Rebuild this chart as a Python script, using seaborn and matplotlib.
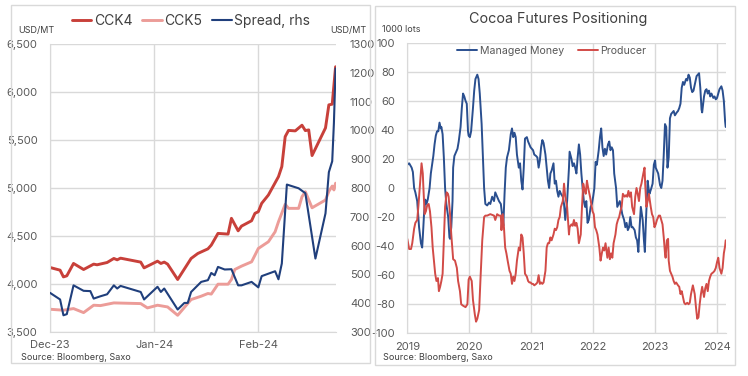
import matplotlib
matplotlib.use("Agg")
import matplotlib.pyplot as plt
from matplotlib.patches import Rectangle
import seaborn as sns
import pandas as pd

# ---------------- Left panel data ----------------
cck4_dates = ["2023-12-01", "2023-12-04", "2023-12-05", "2023-12-06", "2023-12-08", "2023-12-11",
              "2023-12-14", "2023-12-15", "2023-12-18", "2023-12-20", "2023-12-21", "2023-12-22",
              "2023-12-28", "2023-12-29", "2024-01-02", "2024-01-03", "2024-01-04", "2024-01-05",
              "2024-01-08", "2024-01-12", "2024-01-14", "2024-01-17", "2024-01-18", "2024-01-20",
              "2024-01-23", "2024-01-24", "2024-01-26", "2024-01-27", "2024-01-30", "2024-01-31",
              "2024-02-01", "2024-02-02", "2024-02-04", "2024-02-07", "2024-02-08", "2024-02-09",
              "2024-02-10", "2024-02-12", "2024-02-14", "2024-02-15", "2024-02-16", "2024-02-17",
              "2024-02-21", "2024-02-22", "2024-02-23", "2024-02-24"]
cck4_values = [4172, 4144, 4074, 4085, 4214, 4151, 4207, 4200, 4224, 4266, 4252, 4269,
               4228, 4168, 4238, 4214, 4228, 4207, 4047, 4266, 4318, 4366, 4405, 4527,
               4520, 4684, 4554, 4603, 4659, 4736, 4753, 4840, 4927, 5118, 5223, 5535,
               5600, 5595, 5654, 5598, 5605, 5338, 5626, 5866, 5873, 6263]

cck5_dates = ["2023-12-01", "2023-12-05", "2023-12-08", "2023-12-11", "2023-12-14", "2023-12-16",
              "2023-12-20", "2023-12-28", "2023-12-30", "2024-01-02", "2024-01-05", "2024-01-08",
              "2024-01-12", "2024-01-15", "2024-01-17", "2024-01-18", "2024-01-20", "2024-01-23",
              "2024-01-24", "2024-01-25", "2024-01-27", "2024-01-30", "2024-01-31", "2024-02-01",
              "2024-02-04", "2024-02-06", "2024-02-07", "2024-02-09", "2024-02-10", "2024-02-13",
              "2024-02-14", "2024-02-15", "2024-02-17", "2024-02-21", "2024-02-22", "2024-02-23",
              "2024-02-23 12:00", "2024-02-24"]
cck5_values = [3737, 3727, 3744, 3702, 3779, 3775, 3803, 3796, 3751, 3779, 3761, 3674,
               3838, 3873, 3901, 3895, 3998, 3998, 4047, 4151, 4186, 4231, 4300, 4370,
               4440, 4544, 4648, 4830, 4788, 4788, 4909, 4961, 4794, 4875, 4965, 5020,
               4980, 5050]

spread_dates = ["2023-12-01", "2023-12-04", "2023-12-05", "2023-12-06", "2023-12-08", "2023-12-11",
                "2023-12-13", "2023-12-14", "2023-12-16", "2023-12-18", "2023-12-20", "2023-12-21",
                "2023-12-22", "2023-12-28", "2023-12-29", "2024-01-02", "2024-01-03", "2024-01-04",
                "2024-01-08", "2024-01-10", "2024-01-11", "2024-01-12", "2024-01-15", "2024-01-17",
                "2024-01-18", "2024-01-19", "2024-01-20", "2024-01-22", "2024-01-24", "2024-01-26",
                "2024-01-27", "2024-01-30", "2024-02-01", "2024-02-02", "2024-02-06", "2024-02-07",
                "2024-02-08", "2024-02-09 12:00", "2024-02-13", "2024-02-15", "2024-02-18",
                "2024-02-21", "2024-02-22", "2024-02-23", "2024-02-23 12:00", "2024-02-24"]
spread_values = [436, 413, 358, 362, 462, 443, 442, 416, 424, 431, 462, 451,
                 460, 439, 413, 457, 439, 451, 378, 401, 401, 439, 474, 480,
                 505, 497, 526, 517, 518, 462, 462, 474, 455, 494, 511, 483,
                 538, 812, 799, 782, 555, 712, 855, 893, 1025, 1215]

left_ticks = ["2023-12-01", "2024-01-01", "2024-02-01"]
left_tick_labels = ["Dec-23", "Jan-24", "Feb-24"]

# ---------------- Right panel data ----------------
mm_t = [2019.00, 2019.03, 2019.07, 2019.09, 2019.11, 2019.13, 2019.16, 2019.19, 2019.22, 2019.24,
        2019.25, 2019.27, 2019.29, 2019.31, 2019.33, 2019.36, 2019.38, 2019.40, 2019.42, 2019.44,
        2019.46, 2019.48, 2019.50, 2019.52, 2019.54, 2019.55, 2019.57, 2019.59, 2019.61, 2019.63,
        2019.66, 2019.68, 2019.69, 2019.71, 2019.73, 2019.74, 2019.76, 2019.79, 2019.81, 2019.83,
        2019.86, 2019.88, 2019.90, 2019.92, 2019.94, 2019.96, 2019.98, 2019.99, 2020.01, 2020.03,
        2020.06, 2020.08, 2020.10, 2020.13, 2020.15, 2020.17, 2020.20, 2020.22, 2020.24, 2020.26,
        2020.29, 2020.32, 2020.34, 2020.37, 2020.40, 2020.42, 2020.45, 2020.48, 2020.51, 2020.53,
        2020.55, 2020.57, 2020.59, 2020.61, 2020.64, 2020.67, 2020.69, 2020.71, 2020.73, 2020.75,
        2020.77, 2020.80, 2020.82, 2020.84, 2020.86, 2020.88, 2020.90, 2020.93, 2020.95, 2020.97,
        2020.99, 2021.01, 2021.03, 2021.05, 2021.08, 2021.10, 2021.12, 2021.14, 2021.16, 2021.18,
        2021.20, 2021.23, 2021.25, 2021.27, 2021.29, 2021.31, 2021.33, 2021.36, 2021.38, 2021.40,
        2021.42, 2021.44, 2021.46, 2021.48, 2021.51, 2021.53, 2021.55, 2021.58, 2021.61, 2021.62,
        2021.65, 2021.67, 2021.69, 2021.71, 2021.73, 2021.75, 2021.77, 2021.79, 2021.81, 2021.83,
        2021.85, 2021.87, 2021.89, 2021.91, 2021.93, 2021.96, 2021.98, 2022.00, 2022.02, 2022.04,
        2022.06, 2022.09, 2022.11, 2022.13, 2022.15, 2022.17, 2022.19, 2022.21, 2022.24, 2022.26,
        2022.28, 2022.30, 2022.32, 2022.33, 2022.34, 2022.37, 2022.39, 2022.41, 2022.43, 2022.45,
        2022.47, 2022.50, 2022.52, 2022.54, 2022.56, 2022.58, 2022.60, 2022.62, 2022.64, 2022.67,
        2022.69, 2022.71, 2022.73, 2022.75, 2022.77, 2022.80, 2022.82, 2022.835, 2022.85, 2022.87,
        2022.88, 2022.90, 2022.91, 2022.94, 2022.96, 2022.98, 2023.00, 2023.01, 2023.03, 2023.05,
        2023.08, 2023.10, 2023.12, 2023.14, 2023.16, 2023.18, 2023.20, 2023.22, 2023.24, 2023.26,
        2023.28, 2023.30, 2023.32, 2023.35, 2023.37, 2023.39, 2023.41, 2023.43, 2023.45, 2023.47,
        2023.50, 2023.52, 2023.54, 2023.56, 2023.58, 2023.60, 2023.62, 2023.65, 2023.67, 2023.69,
        2023.71, 2023.73, 2023.75, 2023.76, 2023.79, 2023.81, 2023.83, 2023.85, 2023.87, 2023.89,
        2023.91, 2023.94, 2023.96, 2023.98, 2024.00, 2024.02, 2024.04, 2024.07, 2024.09, 2024.11,
        2024.13, 2024.14]
mm_v = [16, 17, 14, 11, 0, -3, -9, -27, -38, -41,
        -34, -18, -8, -11, -8, 0, 10, 16, 22, 30,
        36, 39, 39, 45, 41, 42, 37, 21, 0, -11,
        -20, -34, -35, -27, -9, 14, 22, 25, 27, 32,
        42, 55, 65, 63, 60, 58, 39, 36, 35, 39,
        55, 67, 75, 78, 75, 65, 44, 21, 0, -11,
        -12, -10, -11, -6, -9, -3, -6, -9, -11, -18,
        -26, -4, 14, 21, 26, 37, 41, 35, 38, 35,
        23, 14, 17, 5, -1, 14, 34, 35, 32, 30,
        28, 27, 26, 23, 22, 21, 14, 19, 28, 33,
        31, 23, 14, 5, 0, 10, 12, 17, 3, 5,
        -2, -6, -2, -4, -6, -11, -22, -9, 14, 25,
        20, 15, 17, 14, 10, 21, 30, 23, 10, 0,
        -9, -13, -9, -24, -22, -13, -11, -6, 0, 18,
        16, 26, 35, 41, 28, 22, 27, 23, 30, 32,
        26, 28, 26, 19, 10, 0, -13, -11, -9, -13,
        -18, -22, -27, -24, -29, -27, -20, -27, -27, -29,
        -34, -36, -44, -27, -13, -22, -36, -44, -25, -5,
        5, -2, -4, 0, 3, 16, 19, 14, 12, 10,
        2, 0, 5, 23, 44, 42, 14, 21, 48, 51,
        52, 53, 50, 52, 53, 55, 58, 69, 73, 71,
        75, 74, 78, 76, 69, 66, 67, 73, 77, 78,
        79, 69, 54, 52, 63, 67, 68, 65, 67, 63,
        65, 62, 63, 61, 62, 65, 68, 70, 67, 60,
        46, 42]

prod_t = [2019.00, 2019.03, 2019.06, 2019.08, 2019.11, 2019.13, 2019.16, 2019.18, 2019.20, 2019.22,
          2019.23, 2019.25, 2019.26, 2019.28, 2019.30, 2019.32, 2019.345, 2019.366, 2019.39, 2019.41,
          2019.43, 2019.45, 2019.47, 2019.495, 2019.51, 2019.53, 2019.55, 2019.57, 2019.59, 2019.61,
          2019.635, 2019.656, 2019.667, 2019.69, 2019.71, 2019.74, 2019.77, 2019.80, 2019.82, 2019.85,
          2019.87, 2019.90, 2019.94, 2019.97, 2019.99, 2020.01, 2020.04, 2020.06, 2020.09, 2020.11,
          2020.13, 2020.16, 2020.18, 2020.21, 2020.24, 2020.26, 2020.29, 2020.34, 2020.40, 2020.42,
          2020.45, 2020.48, 2020.51, 2020.52, 2020.54, 2020.56, 2020.58, 2020.60, 2020.62, 2020.65,
          2020.67, 2020.69, 2020.71, 2020.73, 2020.75, 2020.77, 2020.80, 2020.82, 2020.84, 2020.86,
          2020.88, 2020.90, 2020.93, 2020.95, 2020.97, 2020.99, 2021.01, 2021.03, 2021.05, 2021.08,
          2021.10, 2021.12, 2021.14, 2021.16, 2021.18, 2021.20, 2021.23, 2021.25, 2021.27, 2021.29,
          2021.31, 2021.33, 2021.36, 2021.38, 2021.40, 2021.42, 2021.44, 2021.46, 2021.48, 2021.51,
          2021.53, 2021.55, 2021.58, 2021.61, 2021.62, 2021.65, 2021.67, 2021.69, 2021.71, 2021.73,
          2021.75, 2021.77, 2021.80, 2021.82, 2021.84, 2021.86, 2021.88, 2021.90, 2021.92, 2021.95,
          2021.97, 2021.99, 2022.01, 2022.03, 2022.05, 2022.07, 2022.10, 2022.12, 2022.14, 2022.16,
          2022.18, 2022.20, 2022.23, 2022.25, 2022.27, 2022.29, 2022.31, 2022.33, 2022.36, 2022.38,
          2022.40, 2022.42, 2022.44, 2022.46, 2022.48, 2022.51, 2022.53, 2022.55, 2022.57, 2022.59,
          2022.61, 2022.63, 2022.66, 2022.68, 2022.70, 2022.72, 2022.74, 2022.76, 2022.78, 2022.81,
          2022.83, 2022.84, 2022.86, 2022.88, 2022.90, 2022.93, 2022.95, 2022.97, 2022.99, 2023.01,
          2023.03, 2023.06, 2023.08, 2023.10, 2023.12, 2023.14, 2023.16, 2023.17, 2023.19, 2023.21,
          2023.22, 2023.24, 2023.26, 2023.28, 2023.30, 2023.32, 2023.34, 2023.37, 2023.39, 2023.41,
          2023.43, 2023.45, 2023.47, 2023.49, 2023.52, 2023.54, 2023.56, 2023.58, 2023.61, 2023.64,
          2023.66, 2023.68, 2023.70, 2023.72, 2023.74, 2023.76, 2023.79, 2023.81, 2023.83, 2023.85,
          2023.87, 2023.89, 2023.91, 2023.94, 2023.96, 2023.98, 2024.00, 2024.02, 2024.04, 2024.07,
          2024.09, 2024.11, 2024.13, 2024.14]
prod_v = [-35, -42, -42, -38, -28, -24, -22, -12, 0, 12,
          17, 10, 0, -18, -16, -12, -11, -16, -27, -41,
          -50, -59, -64, -62, -71, -68, -64, -59, -36, -13,
          -3, -4, -6, -18, -32, -49, -50, -55, -64, -71,
          -80, -81, -82, -80, -63, -61, -64, -77, -87, -92,
          -90, -84, -64, -36, -20, -19, -19, -18, -19, -22,
          -18, -19, -19, -29, -18, -27, -41, -45, -50, -57,
          -59, -66, -61, -64, -59, -50, -41, -43, -32, -34,
          -45, -59, -61, -64, -65, -65, -66, -66, -67, -66,
          -65, -60, -66, -65, -66, -65, -57, -41, -38, -38,
          -34, -36, -32, -28, -29, -27, -22, -20, -13, -9,
          3, -6, -13, -32, -27, -25, -26, -22, -26, -24,
          -28, -38, -32, -13, 3, -1, -4, 5, 0, -6,
          -11, -16, -18, -27, -29, -32, -41, -50, -45, -41,
          -43, -38, -48, -41, -49, -45, -48, -38, -32, -25,
          -22, -20, -16, -13, -4, -6, -5, -6, -2, -6,
          -3, -13, -18, -6, 0, -4, -9, 0, 3, 10,
          14, 3, -13, -9, -4, -13, -18, -20, -27, -25,
          -22, -19, -19, -22, -25, -34, -45, -48, -36, -35,
          -50, -57, -59, -61, -64, -66, -65, -67, -68, -73,
          -71, -75, -79, -80, -79, -80, -79, -73, -67, -73,
          -82, -90, -89, -80, -73, -68, -75, -69, -66, -71,
          -64, -61, -59, -58, -57, -55, -51, -48, -55, -59,
          -55, -45, -40, -36]

year_ticks = [2019, 2020, 2021, 2022, 2023, 2024]

# ---------------- Style ----------------
sns.set_style("white")
plt.rcParams["font.family"] = ["Inter", "DejaVu Sans"]

W, H = 748, 376
fig = plt.figure(figsize=(W / 100, H / 100), dpi=100)

GRID = "#D9D9D9"
TICK = "#595959"
TXT = "#404040"
C_CCK4 = "#C8403A"
C_CCK5 = "#EC9C98"
C_SPREAD = "#203F7C"
C_MM = "#2A4F8F"
C_PROD = "#D24B47"


def fx(px):
    return px / W


def fy(py):
    return 1 - py / H


# Panel borders
for (x0, y0, x1, y1) in [(11, 5, 370, 363), (375, 6, 735, 365)]:
    fig.patches.append(Rectangle((fx(x0), fy(y1)), fx(x1) - fx(x0), fy(y0) - fy(y1),
                                 transform=fig.transFigure, fill=False, ec=GRID, lw=1.0))

# ---------------- Left panel ----------------
axL = fig.add_axes([fx(50), fy(332), fx(336) - fx(50), fy(44) - fy(332)])
df4 = pd.DataFrame({"date": pd.to_datetime(cck4_dates, format="ISO8601"), "v": cck4_values})
df5 = pd.DataFrame({"date": pd.to_datetime(cck5_dates, format="ISO8601"), "v": cck5_values})
dfs = pd.DataFrame({"date": pd.to_datetime(spread_dates, format="ISO8601"), "v": spread_values})

sns.lineplot(data=df4, x="date", y="v", ax=axL, color=C_CCK4, lw=2.1, label="CCK4")
sns.lineplot(data=df5, x="date", y="v", ax=axL, color=C_CCK5, lw=2.1, label="CCK5")
axR = axL.twinx()
sns.lineplot(data=dfs, x="date", y="v", ax=axR, color=C_SPREAD, lw=1.5, label="Spread, rhs")

axL.set_ylim(3500, 6500)
axR.set_ylim(300, 1300)
axL.set_xlim(pd.Timestamp("2023-12-01"), pd.Timestamp("2024-02-24 03:00"))
axL.set_yticks(range(3500, 6501, 500))
axL.set_yticklabels([f"{v:,}" for v in range(3500, 6501, 500)])
axR.set_yticks(range(300, 1301, 100))
axR.set_yticklabels([str(v) for v in range(300, 1301, 100)])
axL.set_xticks(pd.to_datetime(left_ticks))
axL.set_xticklabels(left_tick_labels)
for a in (axL, axR):
    a.set_xlabel("")
    a.set_ylabel("")
    a.tick_params(length=0, labelsize=8, colors=TICK)
    for s in a.spines.values():
        s.set_visible(False)
axL.tick_params(axis="y", pad=9)
axR.tick_params(axis="y", pad=10)
axL.tick_params(axis="x", pad=6)
axL.grid(True, color=GRID, lw=1.0)
axR.grid(False)
axL.spines["left"].set_visible(True)
axL.spines["left"].set_color(GRID)
axL.spines["bottom"].set_visible(True)
axL.spines["bottom"].set_color(GRID)
axL.set_axisbelow(True)

h1, l1 = axL.get_legend_handles_labels()
h2, l2 = axR.get_legend_handles_labels()
axL.get_legend().remove()
axR.get_legend().remove()
fig.legend(h1 + h2, l1 + l2, loc="center", bbox_to_anchor=(fx(191), fy(21)), ncol=3,
           frameon=False, fontsize=10, handlelength=1.4, handletextpad=0.2,
           columnspacing=0.7, labelcolor=TXT)

fig.text(fx(18), fy(31), "USD/MT", fontsize=6.5, color=TXT, ha="left", va="center")
fig.text(fx(330), fy(31), "USD/MT", fontsize=6.5, color=TXT, ha="left", va="center")
fig.text(fx(21), fy(358), "Source: Bloomberg, Saxo", fontsize=6.5, color=TXT, ha="left", va="center")

# ---------------- Right panel ----------------
axP = fig.add_axes([fx(407.3), fy(333.3), fx(725.7) - fx(407.3), fy(42.7) - fy(333.3)])
dfm = pd.DataFrame({"t": mm_t, "v": mm_v})
dfp = pd.DataFrame({"t": prod_t, "v": prod_v})
sns.lineplot(data=dfm, x="t", y="v", ax=axP, color=C_MM, lw=1.4, label="Managed Money", sort=False)
sns.lineplot(data=dfp, x="t", y="v", ax=axP, color=C_PROD, lw=1.4, label="Producer", sort=False)
axP.set_xlim(2019, 2024.14)
axP.set_ylim(-100, 100)
axP.set_xticks(year_ticks)
axP.set_xticklabels([str(y) for y in year_ticks])
axP.set_yticks(range(-100, 101, 20))
axP.set_yticklabels([str(v) for v in range(-100, 101, 20)])
axP.set_xlabel("")
axP.set_ylabel("")
axP.tick_params(length=0, labelsize=8, colors=TICK)
axP.tick_params(axis="y", pad=9)
axP.tick_params(axis="x", pad=6)
for s in axP.spines.values():
    s.set_visible(False)
axP.spines["left"].set_visible(True)
axP.spines["left"].set_color(GRID)
axP.spines["bottom"].set_visible(True)
axP.spines["bottom"].set_color(GRID)
axP.grid(True, color=GRID, lw=1.0)
axP.set_axisbelow(True)
axP.legend(loc="center", bbox_to_anchor=(fx(552), fy(50.7)), bbox_transform=fig.transFigure,
           ncol=2, frameon=False, fontsize=7.6, handlelength=1.9, handletextpad=0.25,
           columnspacing=1.3, labelcolor=TICK)

fig.text(fx(558), fy(19), "Cocoa Futures Positioning", fontsize=10.3, color=TXT, ha="center", va="center")
fig.text(fx(382), fy(30), "1000 lots", fontsize=6.5, color=TXT, ha="left", va="center")
fig.text(fx(383), fy(358), "Source: Bloomberg, Saxo", fontsize=6.5, color=TXT, ha="left", va="center")

fig.savefig("out.png", dpi=100)
